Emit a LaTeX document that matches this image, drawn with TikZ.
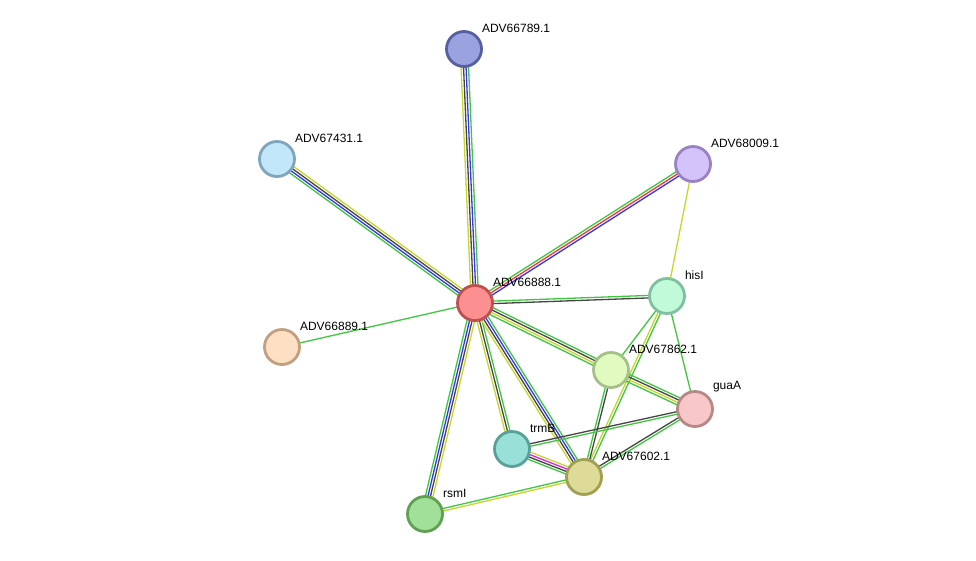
\documentclass[tikz,border=0pt]{standalone}
\usepackage{fontspec}
\setmainfont{Liberation Sans}
\usetikzlibrary{calc,backgrounds}
\definecolor{sgreen}{HTML}{3DC73D}
\definecolor{syellow}{HTML}{C6D62C}
\definecolor{sblack}{HTML}{454545}
\definecolor{sblue}{HTML}{3535F0}
\definecolor{sred}{HTML}{F03A3A}
\definecolor{smagenta}{HTML}{DD22DD}
\newcommand{\strands}[4]{%
  \foreach \col [count=\k] in {#4}
    \draw[\col, line width=1.3pt]
      ($(#1)!{(\k-(#3+1)/2)*2.5pt}!90:(#2)$) -- ($(#2)!{(\k-(#3+1)/2)*2.5pt}!-90:(#1)$);
}

\begin{document}
\begin{tikzpicture}[x=1pt, y=-1pt,
    prot/.style={circle, minimum size=35pt, inner sep=0pt, line width=2.8pt},
    every label/.style={font=\fontsize{12}{14}\selectfont, inner sep=0pt, anchor=south west, xshift=4.5pt, yshift=3pt}]
  \useasboundingbox (0,0) rectangle (976,560);
  \node[prot, fill={rgb,255:red,154;green,163;blue,224}, draw={rgb,255:red,86;green,96;blue,160}, label=north east:ADV66789.1] (p789) at (464,49) {};
  \node[prot, fill={rgb,255:red,194;green,230;blue,250}, draw={rgb,255:red,127;green,165;blue,191}, label=north east:ADV67431.1] (p431) at (277,159) {};
  \node[prot, fill={rgb,255:red,212;green,194;blue,250}, draw={rgb,255:red,154;green,130;blue,192}, label=north east:ADV68009.1] (p009) at (693,164) {};
  \node[prot, fill={rgb,255:red,252;green,144;blue,144}, draw={rgb,255:red,192;green,80;blue,80}, label=north east:ADV66888.1] (p888) at (475,303) {};
  \node[prot, fill={rgb,255:red,192;green,250;blue,216}, draw={rgb,255:red,128;green,192;blue,160}, label=north east:hisI] (hisI) at (667,296) {};
  \node[prot, fill={rgb,255:red,253;green,223;blue,196}, draw={rgb,255:red,192;green,160;blue,128}, label=north east:ADV66889.1] (p889) at (282,347) {};
  \node[prot, fill={rgb,255:red,224;green,250;blue,192}, draw={rgb,255:red,165;green,192;blue,136}, label=north east:ADV67862.1] (p862) at (611,370) {};
  \node[prot, fill={rgb,255:red,248;green,200;blue,200}, draw={rgb,255:red,184;green,136;blue,136}, label=north east:guaA] (guaA) at (695,409) {};
  \node[prot, fill={rgb,255:red,152;green,224;blue,216}, draw={rgb,255:red,88;green,160;blue,152}, label=north east:trmB] (trmB) at (512,449) {};
  \node[prot, fill={rgb,255:red,222;green,218;blue,152}, draw={rgb,255:red,160;green,160;blue,80}, label=north east:ADV67602.1] (p602) at (584,477) {};
  \node[prot, fill={rgb,255:red,160;green,224;blue,152}, draw={rgb,255:red,96;green,160;blue,80}, label=north east:rsmI] (rsmI) at (425,514) {};
  \begin{scope}[on background layer]
    \strands{p888}{p789}{4}{sgreen,sblue,sblack,syellow}
    \strands{p888}{p431}{4}{syellow,sblack,sblue,sgreen}
    \strands{p888}{p009}{3}{sblue,sred,sgreen}
    \strands{p888}{hisI}{2}{sblack,sgreen}
    \strands{p888}{p889}{1}{sgreen}
    \strands{p888}{p862}{4}{sgreen,syellow,sblack,sgreen}
    \strands{p888}{trmB}{3}{syellow,sblack,sgreen}
    \strands{p888}{p602}{4}{syellow,sblack,sblue,sgreen}
    \strands{p888}{rsmI}{4}{sgreen,sblue,sblack,syellow}
    \strands{p009}{hisI}{1}{syellow}
    \strands{hisI}{p862}{1}{sgreen}
    \strands{hisI}{p602}{2}{syellow,sgreen}
    \strands{hisI}{guaA}{1}{sgreen}
    \strands{p862}{guaA}{4}{sgreen,syellow,sblack,sgreen}
    \strands{p862}{p602}{2}{sgreen,sblack}
    \strands{guaA}{trmB}{2}{sblack,sgreen}
    \strands{guaA}{p602}{2}{sblack,sgreen}
    \strands{trmB}{p602}{4}{sgreen,sblack,smagenta,syellow}
    \strands{rsmI}{p602}{2}{syellow,sgreen}
  \end{scope}
\end{tikzpicture}
\end{document}
